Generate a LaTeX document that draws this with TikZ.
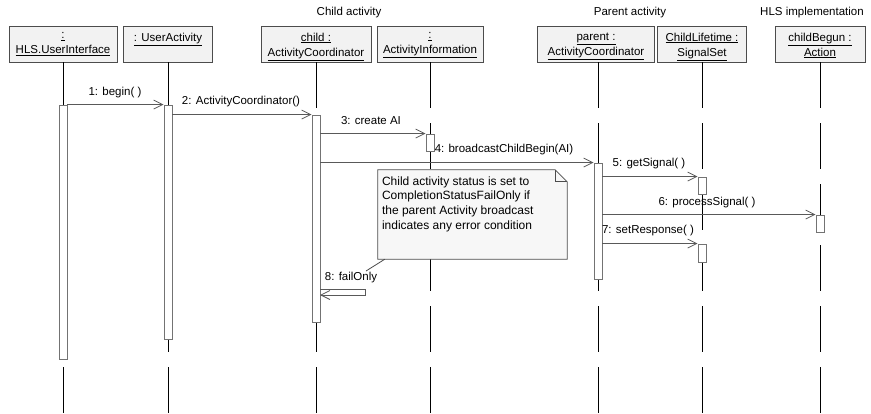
\documentclass[tikz,border=0pt]{standalone}
\usepackage{fontspec}
\setmainfont{Liberation Sans}
\usetikzlibrary{arrows.meta}
\begin{document}
\begin{tikzpicture}[x=1pt,y=-1pt,
  font=\fontsize{11.5}{15}\selectfont,
  objbox/.style={draw=black!70, fill=black!5, line width=0.8pt, minimum height=36pt, inner sep=0pt},
  objtxt/.style={anchor=north, align=center, inner sep=0pt, font=\fontsize{11.5}{15}\selectfont},
  lifeline/.style={draw=black, line width=0.8pt, dash pattern=on 46pt off 15pt},
  actbar/.style={draw=black!55, fill=white, line width=0.9pt, minimum width=8pt, inner sep=0pt},
  msg/.style={draw=black!65, line width=0.8pt, -{Straight Barb[length=9pt,width=9pt,line width=0.8pt]}},
  msglabel/.style={inner sep=0pt, font=\fontsize{11.5}{14}\selectfont},
  grouptitle/.style={inner sep=0pt, font=\fontsize{11.5}{14}\selectfont},
  notetxt/.style={anchor=north west, align=left, inner sep=0pt, font=\fontsize{12}{14.7}\selectfont}
]
\useasboundingbox (0,0) rectangle (871,413);

% group titles
\node[grouptitle] (gChild) at (349,13) {Child activity};
\node[grouptitle] (gParent) at (630,13) {Parent activity};
\node[grouptitle] (gHLS) at (812,13) {HLS implementation};

% object boxes
\node[objbox, minimum width=108pt] (b1) at (63,44) {};
\node[objbox, minimum width=89pt]  (b2) at (168,44) {};
\node[objbox, minimum width=110pt] (b3) at (316,44) {};
\node[objbox, minimum width=106pt] (b4) at (430,44) {};
\node[objbox, minimum width=117pt] (b5) at (596,44) {};
\node[objbox, minimum width=89pt]  (b6) at (702,44) {};
\node[objbox, minimum width=90pt]  (b7) at (820,44) {};

\node[objtxt] (t1) at ([yshift=-7pt]b1.north) {\underline{:}\\\underline{HLS.UserInterface}};
\node[objtxt] (t2) at ([yshift=-7pt]b2.north) {\underline{: UserActivity}};
\node[objtxt] (t3) at ([yshift=-7pt]b3.north) {\underline{child :}\\\underline{ActivityCoordinator}};
\node[objtxt] (t4) at ([yshift=-7pt]b4.north) {\underline{:}\\\underline{ActivityInformation}};
\node[objtxt] (t5) at ([yshift=-7pt]b5.north) {\underline{parent :}\\\underline{ActivityCoordinator}};
\node[objtxt] (t6) at ([yshift=-7pt]b6.north) {\underline{ChildLifetime :}\\\underline{SignalSet}};
\node[objtxt] (t7) at ([yshift=-7pt]b7.north) {\underline{childBegun :}\\\underline{Action}};

% lifelines
\coordinate (e1) at (63,413);
\coordinate (e2) at (168,413);
\coordinate (e3) at (316,413);
\coordinate (e4) at (430,413);
\coordinate (e5) at (598,413);
\coordinate (e6) at (702,413);
\coordinate (e7) at (820,413);
\draw[lifeline] (b1.south) -- (e1);
\draw[lifeline] (b2.south) -- (e2);
\draw[lifeline] (b3.south) -- (e3);
\draw[lifeline] (b4.south) -- (e4);
\draw[lifeline] (b5.south -| e5) -- (e5);
\draw[lifeline] (b6.south) -- (e6);
\draw[lifeline] (b7.south) -- (e7);

% activation bars
\node[actbar, minimum height=254pt] (a1) at (63,232) {};
\node[actbar, minimum height=234pt] (a2) at (168,222) {};
\node[actbar, minimum height=207pt] (a3) at (316,218.5) {};
\node[actbar, minimum height=17pt]  (a4) at (430,142.5) {};
\node[actbar, minimum height=116pt] (a5) at (598,221) {};
\node[actbar, minimum height=17pt]  (a6) at (702,185.5) {};
\node[actbar, minimum height=17pt]  (a7) at (820,223.5) {};
\node[actbar, minimum height=18pt]  (a8) at (702,253) {};

% messages
\draw[msg] (a1.north east) -- (a2.north west);
\node[msglabel] (l1) at (115,93) {1: begin( )};
\draw[msg] (a2.east |- a3.north) -- (a3.north west);
\node[msglabel] (l2) at (241,102) {2: ActivityCoordinator()};
\draw[msg] (a3.east |- a4.north) -- (a4.north west);
\node[msglabel] (l3) at (371,121) {3: create AI};
\draw[msg] (a3.east |- a5.north) -- (a5.north west);
\node[msglabel] (l4) at (504,150) {4: broadcastChildBegin(AI)};
\draw[msg] (a5.east |- a6.north) -- (a6.north west);
\node[msglabel] (l5) at (649,164) {5: getSignal( )};
\draw[msg] (a5.east |- a7.north) -- (a7.north west);
\node[msglabel] (l6) at (707,203) {6: processSignal( )};
\draw[msg] (a5.east |- a8.north) -- (a8.north west);
\node[msglabel] (l7) at (648,231) {7: setResponse( )};

% self message
\coordinate (s8a) at (320,289);
\coordinate (s8b) at (365,289);
\coordinate (s8c) at (365,295);
\coordinate (s8d) at (320,295);
\draw[msg] (s8a) -- (s8b) -- (s8c) -- (s8d);
\node[msglabel] (l8) at (351,278) {8: failOnly};

% note with folded corner
\node[minimum width=189pt, minimum height=89pt, inner sep=0pt] (note) at (472.5,214.5) {};
\draw[draw=black!70, fill=black!3, line width=0.8pt]
  (note.north west) -- ([xshift=-12pt]note.north east) -- ([yshift=-12pt]note.north east)
  -- (note.south east) -- (note.south west) -- cycle;
\draw[draw=black!70, line width=0.8pt]
  ([xshift=-12pt]note.north east) -- ([xshift=-12pt,yshift=-12pt]note.north east) -- ([yshift=-12pt]note.north east);
\node[notetxt] (notetext) at ([xshift=4pt,yshift=-6.5pt]note.north west)
  {Child activity status is set to\\CompletionStatusFailOnly if\\the parent Activity broadcast\\indicates any error condition};
\coordinate (nanchor) at (366,271);
\draw[draw=black!70, line width=0.8pt] ([xshift=7pt]note.south west) -- (nanchor);

\end{tikzpicture}
\end{document}
